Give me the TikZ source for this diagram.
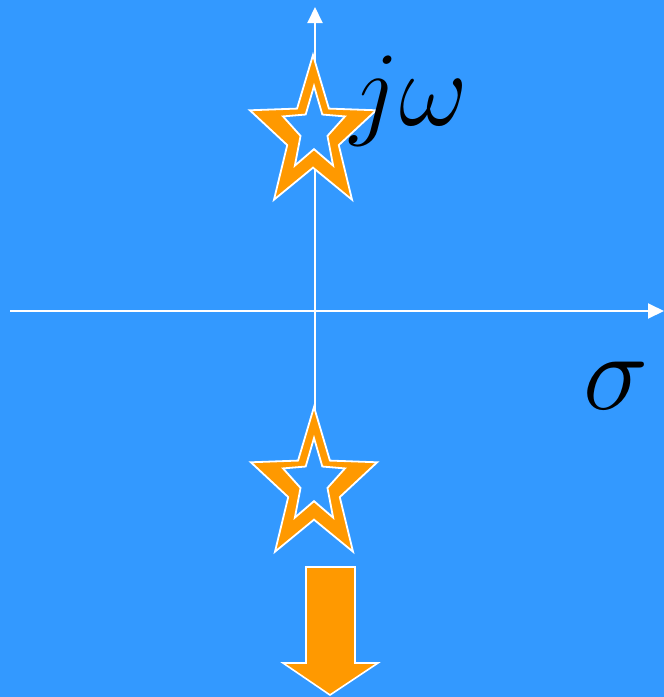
\documentclass[tikz,border=0pt]{standalone}
\usepackage{fix-cm}
\usetikzlibrary{shapes.geometric, arrows.meta}
\definecolor{planeblue}{RGB}{51,153,255}
\definecolor{starorange}{RGB}{255,153,0}
\tikzset{
  axis/.style={draw=white, line width=1pt, -{Triangle[length=8pt,width=7.5pt]}},
  starout/.style={star, star points=5, star point ratio=2.45, fill=starorange, draw=white, line width=0.9pt, inner sep=0pt, outer sep=0pt, minimum size=80pt, transform shape},
  starin/.style={starout, star point ratio=2.3, fill=planeblue, minimum size=44pt},
  bigmath/.style={inner sep=0pt, font=\fontsize{55}{55}\selectfont}
}

\begin{document}
\begin{tikzpicture}[x=0.5pt,y=-0.5pt]
\useasboundingbox (0,0) rectangle (664,697);
\fill[planeblue] (0,0) rectangle (664,697);
% axes
\coordinate (sigmaL) at (10,311);
\coordinate (sigmaR) at (664,311);
\coordinate (omegaT) at (315,7);
\coordinate (omegaB) at (315,410);
\draw[axis] (sigmaL) -- (sigmaR);
\draw[axis] (omegaB) -- (omegaT);
% upper star
\begin{scope}[shift={(313,135)}, xscale=0.83]
\node[starout] (topstar) at (0,0) {};
\end{scope}
\begin{scope}[shift={(314,130)}, xscale=0.74]
\node[starin] (tophole) at (0,0) {};
\end{scope}
% lower star
\begin{scope}[shift={(314,487)}, xscale=0.83]
\node[starout] (lowstar) at (0,0) {};
\end{scope}
\begin{scope}[shift={(314,482)}, xscale=0.74]
\node[starin] (lowhole) at (0,0) {};
\end{scope}
% labels
\node[bigmath, anchor=base west, font=\fontsize{53}{53}\selectfont] (jw) at (350,125) {$j\omega$};
\node[bigmath, anchor=base west] (sig) at (583,409) {$\sigma$};
% moving down
\filldraw[fill=starorange, draw=white, line width=0.8pt]
  (306,567) -- (355,567) -- (355,663) -- (378,663) -- (330,695)
  -- (283,663) -- (306,663) -- cycle;
\end{tikzpicture}
\end{document}
